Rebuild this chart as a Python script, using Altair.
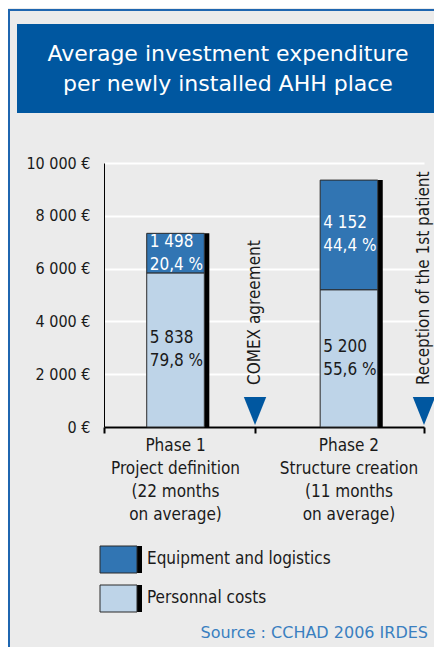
import altair as alt
import pandas as pd

# ---------------- data ----------------
phases = ["Phase 1", "Phase 2"]
phase_text = [
    "Phase 1\nProject definition\n(22 months\non average)",
    "Phase 2\nStructure creation\n(11 months\non average)",
]
personal = [5838, 5200]
equipment = [1498, 4152]
personal_pct = ["79,8 %", "55,6 %"]
equipment_pct = ["20,4 %", "44,4 %"]
series = ["Equipment and logistics", "Personnal costs"]
events = ["COMEX agreement", "Reception of the 1st patient"]
y_ticks = [0, 2000, 4000, 6000, 8000, 10000]
title_text = "Average investment expenditure\nper newly installed AHH place"
source_text = "Source : CCHAD 2006 IRDES"

# ---------------- layout / style ----------------
W, H = 320, 264
PHASE_X = [0.447, 1.531]   # centres of the bars on the x scale (0..2)
HALF = 0.18
EVENT_X = [0.944, 2.0]
DARK = "#3175b3"
LIGHT = "#bed4e8"
NAVY = "#0057a0"
BG = "#ebebeb"
NARROW = "Liberation Sans Narrow, DejaVu Sans Condensed, sans-serif"
WIDE = "DejaVu Sans, sans-serif"


def fmt(v):
    return f"{v:,}".replace(",", " ")


rows = []
for i, ph in enumerate(phases):
    xl, xr = PHASE_X[i] - HALF, PHASE_X[i] + HALF
    rows.append(dict(phase=ph, series=series[1], start=0, end=personal[i],
                     label=f"{fmt(personal[i])}\n{personal_pct[i]}", tcol="#1a1a1a",
                     xl=xl, xr=xr))
    rows.append(dict(phase=ph, series=series[0], start=personal[i],
                     end=personal[i] + equipment[i],
                     label=f"{fmt(equipment[i])}\n{equipment_pct[i]}", tcol="white",
                     xl=xl, xr=xr))
seg = pd.DataFrame(rows)
seg["mid"] = (seg["start"] + seg["end"]) / 2

tot = pd.DataFrame({
    "phase": phases,
    "total": [p + e for p, e in zip(personal, equipment)],
    "xr": [c + HALF for c in PHASE_X],
    "xc": PHASE_X,
    "text": phase_text,
    "zero": [0, 0],
})
ev = pd.DataFrame({"event": events, "x": EVENT_X, "zero": [0, 0]})
one = pd.DataFrame({"a": [0]})

xscale = alt.Scale(domain=[0, 2], nice=False, zero=False)
yscale = alt.Scale(domain=[0, 10000], nice=False)

# frame
frame_left = alt.Chart(one).mark_rect(color="#1f66b0").encode(
    x=alt.value(-96), x2=alt.value(-94), y=alt.value(-154), y2=alt.value(500))
frame_top = alt.Chart(one).mark_rect(color="#1f66b0").encode(
    x=alt.value(-96), x2=alt.value(340), y=alt.value(-154), y2=alt.value(-152))

# title box
title_box = alt.Chart(one).mark_rect(color=NAVY).encode(
    x=alt.value(-87), x2=alt.value(340), y=alt.value(-139), y2=alt.value(-50))
title = alt.Chart(one).mark_text(
    color="white", font=WIDE, fontSize=22, lineBreak="\n", lineHeight=30,
    align="center", baseline="middle").encode(
    x=alt.value(124), y=alt.value(-109), text=alt.value(title_text))

# shadows
shadow = alt.Chart(tot).mark_rect(color="black", x2Offset=5).encode(
    x=alt.X("xr:Q", scale=xscale), x2="xr:Q",
    y=alt.Y("total:Q", scale=yscale), y2=alt.datum(0))

# bars
bars = alt.Chart(seg).mark_rect(stroke="#2a2a2a", strokeWidth=1).encode(
    x=alt.X("xl:Q", scale=xscale, title=None,
            axis=alt.Axis(values=[0] + EVENT_X, labels=False,
                          ticks=True, tickColor="black", tickSize=6, tickWidth=2,
                          domainColor="black", domainWidth=2, grid=False)),
    x2="xr:Q",
    y=alt.Y("start:Q", scale=yscale, title=None,
            axis=alt.Axis(values=y_ticks, ticks=False, domainColor="black",
                          domainWidth=1, gridColor="white", gridWidth=2,
                          labelFont=NARROW, labelFontSize=16, labelColor="#1a1a1a",
                          labelPadding=14,
                          labelExpr="replace(format(datum.value, ',d'), ',', ' ') + ' €'")),
    y2="end:Q",
    color=alt.Color("series:N", scale=alt.Scale(domain=series, range=[DARK, LIGHT]),
                    legend=None),
)

bar_labels = alt.Chart(seg).mark_text(
    align="left", baseline="middle", dx=3, dy=-11.5, font=NARROW, fontSize=17,
    lineBreak="\n", lineHeight=23).encode(
    x=alt.X("xl:Q", scale=xscale), y=alt.Y("mid:Q", scale=yscale),
    text="label:N", color=alt.Color("tcol:N", scale=None))

phase_labels = alt.Chart(tot).mark_text(
    align="center", baseline="top", font=NARROW, fontSize=17, lineBreak="\n",
    lineHeight=23, color="#1a1a1a").encode(
    x=alt.X("xc:Q", scale=xscale), y=alt.value(H + 11), text="text:N")

triangles = alt.Chart(ev).mark_point(
    shape="M-0.8,-1L0.8,-1L0,1Z", filled=True, opacity=1, color=NAVY,
    size=784, yOffset=-16).encode(
    x=alt.X("x:Q", scale=xscale), y=alt.Y("zero:Q", scale=yscale))

event_text = alt.Chart(ev).mark_text(
    angle=270, align="left", baseline="middle", font=NARROW, fontSize=17,
    color="#1a1a1a").encode(
    x=alt.X("x:Q", scale=xscale), y=alt.value(222), text="event:N")

# legend (manual)
leg = []
for k, (name, col) in enumerate(zip(series, [DARK, LIGHT])):
    y0 = 383 + k * 39
    leg.append(alt.Chart(one).mark_rect(color="black").encode(
        x=alt.value(31), x2=alt.value(38), y=alt.value(y0), y2=alt.value(y0 + 27)))
    leg.append(alt.Chart(one).mark_rect(color=col, stroke="#2a2a2a", strokeWidth=1).encode(
        x=alt.value(-4), x2=alt.value(33), y=alt.value(y0), y2=alt.value(y0 + 27)))
    leg.append(alt.Chart(one).mark_text(
        align="left", baseline="middle", font=NARROW, fontSize=17, color="#1a1a1a").encode(
        x=alt.value(43), y=alt.value(y0 + 13), text=alt.value(name)))

source = alt.Chart(one).mark_text(
    align="right", baseline="middle", font=WIDE, fontSize=16, color="#3a7fc0").encode(
    x=alt.value(324), y=alt.value(470), text=alt.value(source_text))

chart = alt.layer(
    frame_left, frame_top, title_box, title, shadow, bars, bar_labels,
    phase_labels, triangles, event_text, *leg, source
).properties(
    width=W, height=H,
    padding={"left": 96, "top": 155, "right": 10, "bottom": 220},
    autosize=alt.AutoSizeParams(type="none"),
    background=BG,
).configure_view(stroke=None)

chart.save("out.html", embed_options={"renderer": "svg", "actions": False})
